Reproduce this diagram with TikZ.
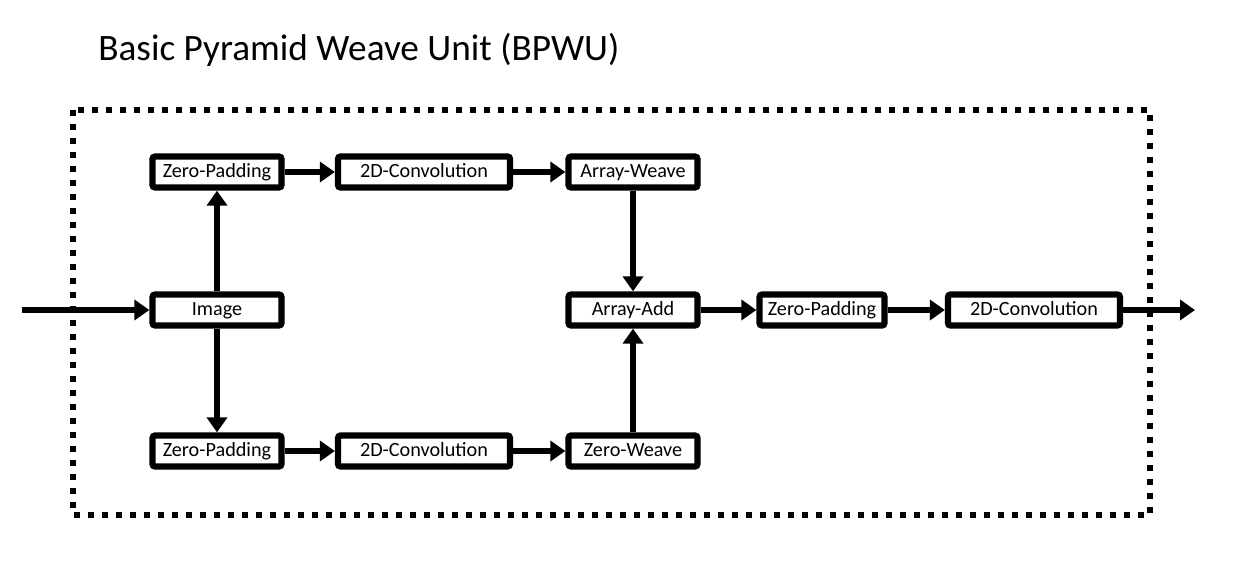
\documentclass[tikz,border=0pt]{standalone}
\usepackage{fontspec}
\setmainfont{Carlito}
\usetikzlibrary{arrows.meta,positioning}

\begin{document}
\begin{tikzpicture}[x=0.02cm,y=-0.02cm]
\tikzstyle{every node}+=[font=\fontsize{11.5}{13}\selectfont]
\tikzstyle{stage}=[draw,line width=3.6pt,rounded corners=1.5pt,minimum width=2.58cm,minimum height=0.62cm,inner sep=0pt,text height=1.45ex,text depth=0.25ex]
\tikzstyle{wide}=[stage,minimum width=3.44cm]
\tikzstyle{flow}=[line width=3.4pt,-{Triangle[length=0.3cm,width=0.4cm]}]
\useasboundingbox (0,0) rectangle (1250,575);
\node [anchor=west,font=\fontsize{21.2}{24}\selectfont,inner sep=0pt] (title) at (98,50) {Basic Pyramid Weave Unit (BPWU)};
\draw [line width=3.4pt,dash pattern=on 0.12cm off 0.16cm] (73,110) rectangle (1150,515);
% upper branch
\node [stage] (zpa) at (217,172) {Zero-Padding};
\node [wide] (cva) at (424,172) {2D-Convolution};
\node [stage] (aw) at (633,172) {Array-Weave};
% middle
\node [stage] (img) at (217,310) {Image};
\node [stage] (add) at (633,310) {Array-Add};
\node [stage,minimum width=2.5cm] (zpc) at (822,310) {Zero-Padding};
\node [wide] (cvc) at (1034,310) {2D-Convolution};
% lower branch
\node [stage] (zpb) at (217,451) {Zero-Padding};
\node [wide] (cvb) at (424,451) {2D-Convolution};
\node [stage] (zw) at (633,451) {Zero-Weave};
\coordinate (in) at (22,310);
\coordinate (out) at (1195,310);
\draw [flow] (in) -- (img);
\draw [flow] (img) -- (zpa);
\draw [flow] (img) -- (zpb);
\draw [flow] (zpa) -- (cva);
\draw [flow] (cva) -- (aw);
\draw [flow] (zpb) -- (cvb);
\draw [flow] (cvb) -- (zw);
\draw [flow] (aw) -- (add);
\draw [flow] (zw) -- (add);
\draw [flow] (add) -- (zpc);
\draw [flow] (zpc) -- (cvc);
\draw [flow] (cvc) -- (out);
\end{tikzpicture}
\end{document}
